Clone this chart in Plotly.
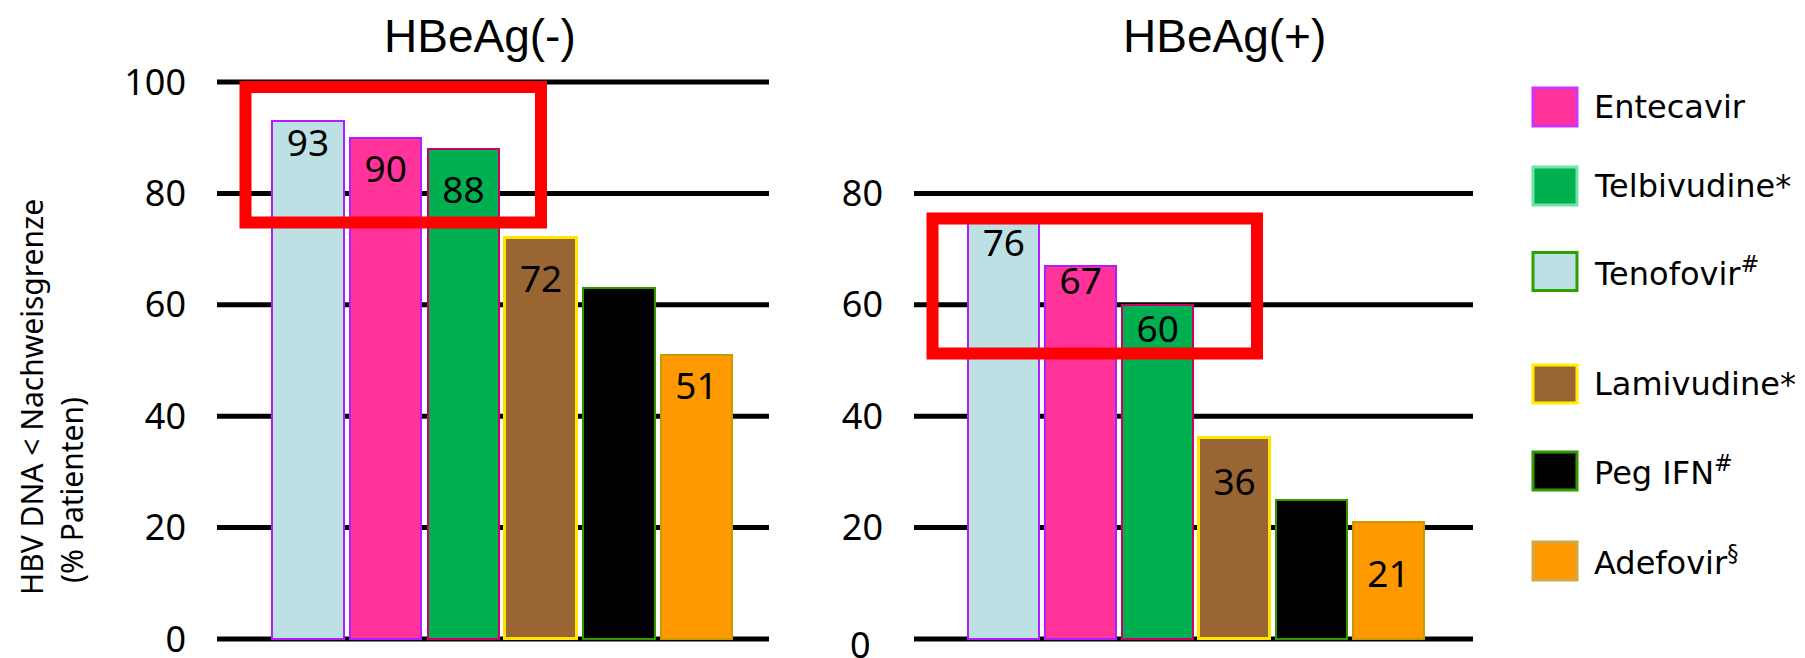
import plotly.graph_objects as go

W, H = 1805, 658

# ---- data -------------------------------------------------------------
drugs = ["Tenofovir", "Entecavir", "Telbivudine", "Lamivudine", "Peg IFN", "Adefovir"]
neg_values = [93, 90, 88, 72, 63, 51]          # HBeAg(-) : % patients, HBV DNA undetectable
pos_values = [76, 67, 60, 36, 25, 21]          # HBeAg(+)
neg_labelled = [True, True, True, True, False, True]
pos_labelled = [True, True, True, True, False, True]
neg_ticks = [0, 20, 40, 60, 80, 100]
pos_ticks = [0, 20, 40, 60, 80]

legend_order = ["Entecavir", "Telbivudine", "Tenofovir", "Lamivudine", "Peg IFN", "Adefovir"]
legend_text = ["Entecavir", "Telbivudine*", "Tenofovir<sup>#</sup>",
               "Lamivudine*", "Peg IFN<sup>#</sup>", "Adefovir<sup>§</sup>"]

# ---- styling ----------------------------------------------------------
fill = {"Tenofovir": "#BCE0E3", "Entecavir": "#FF3399", "Telbivudine": "#00B050",
        "Lamivudine": "#996633", "Peg IFN": "#000000", "Adefovir": "#FF9900"}
bar_edge = {"Tenofovir": "#B01EFF", "Entecavir": "#B01EFF", "Telbivudine": "#CC0066",
            "Lamivudine": "#FFE500", "Peg IFN": "#2E9A00", "Adefovir": "#CC9900"}
bar_edge_w = {"Tenofovir": 2, "Entecavir": 2, "Telbivudine": 2,
              "Lamivudine": 3, "Peg IFN": 2, "Adefovir": 2}
key_edge = {"Entecavir": "#CC33FF", "Telbivudine": "#6FE3A8", "Tenofovir": "#2EA000",
            "Lamivudine": "#FFEE00", "Peg IFN": "#2E9A00", "Adefovir": "#D2A94A"}

# vertical drop (in % units) of each value label below its bar top
neg_label_drop = [4.7, 6.3, 8.0, 8.0, 0, 6.3]
pos_label_drop = [5.6, 3.4, 5.0, 8.4, 0, 10.0]

NUM_FONT = dict(family="Noto Sans", size=36, color="black")
LBL_FONT = dict(family="Noto Sans", size=37, color="black")
TITLE_FONT = dict(family="Liberation Sans, Arial", size=46, color="black")
KEY_FONT = dict(family="DejaVu Sans", size=32, color="black")
YT_FONT = dict(family="Noto Sans", size=30, color="black")

# vertical scale: value 0 sits at pixel row 639, value 100 at row 82
Y0_PX, Y100_PX = 639, 82
PX_PER_UNIT = (Y0_PX - Y100_PX) / 100
PAD_PX = 19
y_range = [-PAD_PX / PX_PER_UNIT, 100 + PAD_PX / PX_PER_UNIT]
y_dom = [(H - Y0_PX - PAD_PX) / H, (H - Y100_PX + PAD_PX) / H]


def fx(x):
    return x / W


def fy(y):
    return 1 - y / H


fig = go.Figure()


def add_panel(values, labelled, drops, xa, ya):
    fig.add_trace(go.Bar(
        x=drugs, y=values, width=0.92,
        marker=dict(color=[fill[d] for d in drugs],
                    line=dict(color=[bar_edge[d] for d in drugs],
                              width=[bar_edge_w[d] for d in drugs])),
        xaxis=xa, yaxis=ya, showlegend=False, hoverinfo="skip",
    ))
    xs = [d for d, s in zip(drugs, labelled) if s]
    ys = [v - dr for v, dr, s in zip(values, drops, labelled) if s]
    tx = [str(v) for v, s in zip(values, labelled) if s]
    fig.add_trace(go.Scatter(
        x=xs, y=ys, text=tx, mode="text", textposition="middle center",
        textfont=LBL_FONT, xaxis=xa, yaxis=ya, showlegend=False, hoverinfo="skip",
    ))


add_panel(neg_values, neg_labelled, neg_label_drop, "x", "y")
add_panel(pos_values, pos_labelled, pos_label_drop, "x2", "y2")

shapes = []
# horizontal rules behind the bars
for v in neg_ticks:
    shapes.append(dict(type="line", xref="x domain", yref="y", x0=0, x1=1, y0=v, y1=v,
                       line=dict(color="black", width=5), layer="below"))
for v in pos_ticks:
    shapes.append(dict(type="line", xref="x2 domain", yref="y2", x0=0, x1=1, y0=v, y1=v,
                       line=dict(color="black", width=5), layer="below"))

# red highlight frames around the three leading agents
for (x0, y0, x1, y1) in [(245.5, 87, 541, 222.5), (932.5, 218.5, 1257, 353.5)]:
    shapes.append(dict(type="rect", xref="paper", yref="paper",
                       x0=fx(x0), x1=fx(x1), y0=fy(y0), y1=fy(y1),
                       line=dict(color="#FF0000", width=12), fillcolor="rgba(0,0,0,0)",
                       layer="above"))

annotations = []
# key on the right
key_centres = [107, 186, 271.5, 384, 471, 561]
for name, txt, cy in zip(legend_order, legend_text, key_centres):
    shapes.append(dict(type="rect", xref="paper", yref="paper",
                       x0=fx(1533), x1=fx(1577), y0=fy(cy - 19), y1=fy(cy + 19),
                       fillcolor=fill[name], line=dict(color=key_edge[name], width=3)))
    annotations.append(dict(text=txt, xref="paper", yref="paper", x=fx(1592), y=fy(cy),
                            xanchor="left", yanchor="middle", showarrow=False, font=KEY_FONT))

# panel titles
annotations.append(dict(text="HBeAg(-)", xref="paper", yref="paper", x=fx(480), y=fy(36),
                        xanchor="center", yanchor="middle", showarrow=False, font=TITLE_FONT))
annotations.append(dict(text="HBeAg(+)", xref="paper", yref="paper", x=fx(1224), y=fy(36),
                        xanchor="center", yanchor="middle", showarrow=False, font=TITLE_FONT))

# y-axis title (two lines)
annotations.append(dict(text="HBV DNA < Nachweisgrenze", xref="paper", yref="paper",
                        x=fx(31), y=fy(397), textangle=-90, xanchor="center", yanchor="middle",
                        showarrow=False, font=YT_FONT))
annotations.append(dict(text="(% Patienten)", xref="paper", yref="paper",
                        x=fx(71), y=fy(490), textangle=-90, xanchor="center", yanchor="middle",
                        showarrow=False, font=YT_FONT))

# zero label of the right panel sits slightly below its rule
annotations.append(dict(text="0", xref="paper", yref="paper", x=fx(860), y=fy(644),
                        xanchor="center", yanchor="middle", showarrow=False, font=NUM_FONT))

common_x = dict(type="category", showticklabels=False, showgrid=False, zeroline=False,
                showline=False, ticks="", fixedrange=True)
common_y = dict(range=y_range, domain=y_dom, showgrid=False, zeroline=False, showline=False,
                ticks="", ticklabelstandoff=30, tickfont=NUM_FONT, fixedrange=True,
                automargin=False, ticklabeloverflow="allow")

fig.update_layout(
    width=W, height=H,
    margin=dict(l=0, r=0, t=0, b=0),
    paper_bgcolor="white", plot_bgcolor="white",
    template="none",
    bargap=0,
    xaxis=dict(domain=[217 / W, 769 / W], range=[-1.171, 5.933], anchor="y", **common_x),
    xaxis2=dict(domain=[914 / W, 1473 / W], range=[-1.167, 6.098], anchor="y2", **common_x),
    yaxis=dict(anchor="x", tickvals=neg_ticks, **common_y),
    yaxis2=dict(anchor="x2", tickvals=pos_ticks[1:], **common_y),
    shapes=shapes,
    annotations=annotations,
    showlegend=False,
)

fig.write_html("out.html")
